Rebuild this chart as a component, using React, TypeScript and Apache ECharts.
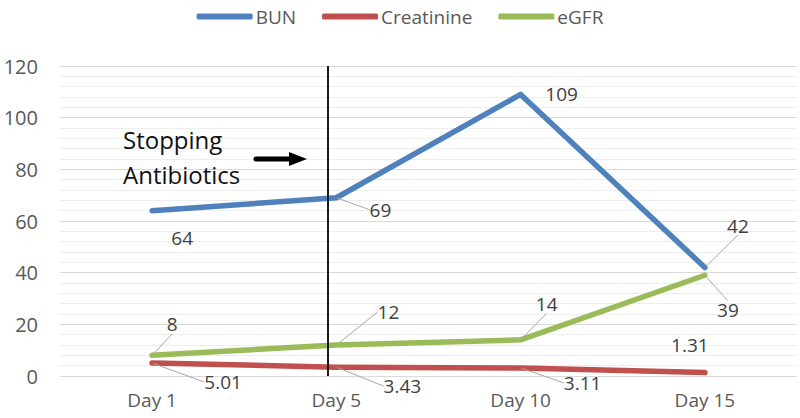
import React, { useEffect, useRef } from "react";
import * as echarts from "echarts";

const categories = ["Day 1", "Day 5", "Day 10", "Day 15"];
const bun = [64, 69, 109, 42];
const creatinine = [5.01, 3.43, 3.11, 1.31];
const egfr = [8, 12, 14, 39];
const yTicks = { min: 0, max: 120, interval: 20 };

// label placement (pixel offsets from the point) and whether a leader line is drawn
const labelOffsets = [
  [[30, 27], [44, 12], [41, 0], [33, -42]],
  [[71, 19], [66, 19], [62, 15], [-15, -28]],
  [[20, -31], [52, -33], [26, -36], [23, 35]],
];
const leaders = [
  [false, true, false, true],
  [true, true, true, false],
  [true, true, true, true],
];

const FONT = "Open Sans";

export default function App() {
  const ref = useRef<HTMLDivElement>(null);
  useEffect(() => {
    if (!ref.current) return;
    const chart = echarts.init(ref.current, null, { renderer: "svg" });
    const mk = (name: string, vals: number[], color: string, si: number) => ({
      name,
      type: "line",
      data: vals.map((v, i) => ({ value: v, labelLine: { show: leaders[si][i] } })),
      symbol: "circle",
      symbolSize: 2,
      itemStyle: { color },
      lineStyle: { color, width: 5.5, cap: "round", join: "round" },
      label: {
        show: true,
        position: "inside",
        color: "#404040",
        fontFamily: FONT,
        fontSize: 19,
      },
      labelLine: {
        show: true,
        lineStyle: { color: "#a6a6a6", width: 1 },
      },
      labelLayout: (p: any) => ({
        dx: labelOffsets[si][p.dataIndex][0],
        dy: labelOffsets[si][p.dataIndex][1],
      }),
      z: 3 - si,
    });
    chart.setOption({
      animation: false,
      textStyle: { fontFamily: FONT },
      legend: {
        top: 2,
        left: "center",
        icon: "roundRect",
        itemWidth: 56,
        itemHeight: 6,
        itemGap: 26,
        textStyle: { color: "#595959", fontSize: 19, fontFamily: FONT, padding: [0, 0, 0, -2] },
        data: ["BUN", "Creatinine", "eGFR"],
      },
      grid: { left: 60, right: 3, top: 66, bottom: 42, containLabel: false },
      xAxis: {
        type: "category",
        data: categories,
        boundaryGap: true,
        axisLine: { show: false },
        axisTick: { show: false },
        axisLabel: { color: "#595959", fontSize: 19, fontFamily: FONT, margin: 14 },
      },
      yAxis: {
        type: "value",
        min: yTicks.min,
        max: yTicks.max,
        interval: yTicks.interval,
        axisLine: { show: false },
        axisTick: { show: false },
        axisLabel: { color: "#595959", fontSize: 20, fontFamily: FONT, margin: 22 },
        splitLine: { lineStyle: { color: "#d9d9d9", width: 1 } },
        minorTick: { show: false, splitNumber: 5 },
        minorSplitLine: { show: true, lineStyle: { color: "#ededed", width: 1 } },
      },
      series: [
        mk("BUN", bun, "#4F81BD", 0),
        mk("Creatinine", creatinine, "#C0504D", 1),
        mk("eGFR", egfr, "#9BBB59", 2),
      ],
      graphic: [
        {
          type: "line",
          shape: { x1: 328, y1: 66, x2: 328, y2: 376 },
          style: { stroke: "#1a1a1a", lineWidth: 2 },
          z: 10,
        },
        {
          type: "text",
          left: 123,
          top: 122,
          style: {
            text: "Stopping\nAntibiotics",
            font: `24px ${FONT}`,
            lineHeight: 35,
            fill: "#111",
          },
          z: 10,
        },
        {
          type: "line",
          shape: { x1: 256, y1: 159, x2: 292, y2: 159 },
          style: { stroke: "#000", lineWidth: 5, lineCap: "round" },
          z: 10,
        },
        {
          type: "polygon",
          shape: { points: [[289, 152], [307, 159], [289, 166]] },
          style: { fill: "#000" },
          z: 10,
        },
      ],
    });
    return () => chart.dispose();
  }, []);
  return <div ref={ref} style={{ width: 800, height: 418, position: "absolute", left: 0, top: 0 }} />;
}
